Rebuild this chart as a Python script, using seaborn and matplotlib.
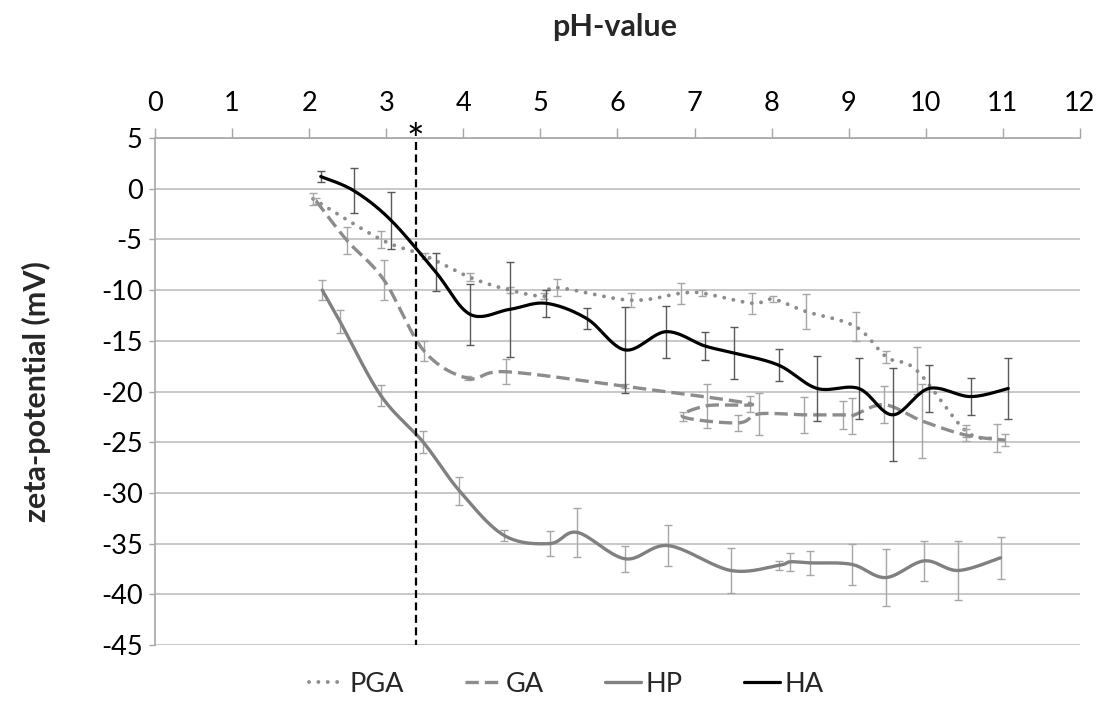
import numpy as np
import pandas as pd
import matplotlib
matplotlib.use("Agg")
import matplotlib.pyplot as plt
from matplotlib.lines import Line2D
import seaborn as sns

# ---- measured zeta potentials (mV) with standard deviations ----
pga_ph = [2.05, 2.93, 3.5, 4.09, 4.6, 5.05, 5.21, 6.17, 6.83, 7.1, 7.75, 8.02, 8.44, 9.09, 9.49, 9.88, 10.52, 10.92]
pga_zeta = [-1.0, -5.0, -6.6, -8.75, -10.0, -10.6, -9.75, -11.0, -10.3, -10.3, -11.3, -10.9, -12.1, -13.6, -16.6, -17.9, -23.9, -24.6]
pga_sd = [0.6, 0.85, 0.3, 0.4, 0.3, 0.3, 0.85, 0.7, 1.05, 0.3, 1.05, 0.3, 1.7, 1.45, 0.6, 2.3, 0.6, 1.4]

ga_ph = [2.09, 2.49, 2.97, 3.49, 4.06, 4.55, 6.1, 7.72, 7.16, 6.85, 7.56, 7.84, 8.42, 8.92, 9.04, 9.46, 9.95, 10.52, 11.03]
ga_zeta = [-1.2, -5.1, -9.0, -16.0, -18.7, -18.05, -19.5, -21.2, -21.4, -22.5, -23.1, -22.2, -22.3, -22.3, -22.4, -21.3, -22.9, -24.3, -24.8]
ga_sd = [0.3, 1.3, 1.95, 1.0, 0.2, 1.25, 0.2, 0.8, 2.15, 0.45, 0.8, 2.1, 1.75, 1.4, 1.8, 1.85, 3.65, 0.6, 0.6]

hp_ph = [2.17, 2.4, 2.93, 3.48, 3.95, 4.53, 5.12, 5.48, 6.1, 6.66, 7.47, 8.09, 8.24, 8.5, 9.04, 9.48, 9.98, 10.42, 10.97]
hp_zeta = [-10.0, -13.1, -20.4, -25.0, -29.8, -34.2, -35.0, -33.9, -36.5, -35.2, -37.65, -37.15, -36.8, -36.9, -37.05, -38.35, -36.7, -37.65, -36.4]
hp_sd = [1.0, 1.1, 1.0, 1.1, 1.35, 0.5, 1.2, 2.4, 1.3, 2.0, 2.25, 0.45, 0.9, 1.15, 2.05, 2.85, 2.0, 2.9, 2.1]

ha_ph = [2.15, 2.58, 3.06, 3.64, 4.09, 4.6, 5.07, 5.6, 6.1, 6.63, 7.13, 7.51, 8.09, 8.59, 9.13, 9.57, 10.04, 10.58, 11.07]
ha_zeta = [1.2, -0.2, -3.1, -8.2, -12.4, -11.9, -11.3, -12.8, -15.9, -14.1, -15.5, -16.2, -17.4, -19.7, -19.7, -22.3, -19.7, -20.5, -19.7]
ha_sd = [0.5, 2.2, 2.8, 1.9, 3.0, 4.7, 1.35, 1.05, 4.2, 2.55, 1.35, 2.6, 1.6, 3.2, 3.05, 4.6, 2.3, 1.85, 3.05]

series_names = ["PGA", "GA", "HP", "HA"]
marked_ph = 3.38
x_ticks = list(range(0, 13))
y_ticks = list(range(-45, 6, 5))


def smooth(xs, ys, n=24):
    """Catmull-Rom style Bezier smoothing through the points, in point order."""
    P = np.column_stack([xs, ys]).astype(float)
    out = []
    m = len(P)
    for i in range(m - 1):
        p0 = P[i - 1] if i > 0 else P[i]
        p1, p2 = P[i], P[i + 1]
        p3 = P[i + 2] if i + 2 < m else P[i + 1]
        c1 = p1 + (p2 - p0) / 6.0
        c2 = p2 - (p3 - p1) / 6.0
        t = np.linspace(0, 1, n, endpoint=(i == m - 2))[:, None]
        seg = ((1 - t) ** 3) * p1 + 3 * ((1 - t) ** 2) * t * c1 + 3 * (1 - t) * t ** 2 * c2 + t ** 3 * p2
        out.append(seg)
    return np.vstack(out)


sns.set_theme(style="white")
plt.rcParams["font.family"] = ["Lato", "DejaVu Sans"]
plt.rcParams["axes.unicode_minus"] = False

fig = plt.figure(figsize=(11.08, 7.02), dpi=100)
ax = fig.add_axes([0.1399, 0.0812, 0.8348, 0.7222])

light_err = "#a6a6a6"
styles = {
    "PGA": dict(color="#8c8c8c", lw=2.8, ls=(0, (0.01, 2.4)), cap="round", ecolor=light_err),
    "GA": dict(color="#8c8c8c", lw=2.4, ls=(0, (4.0, 1.8)), cap="butt", ecolor=light_err),
    "HP": dict(color="#808080", lw=2.4, ls="-", cap="round", ecolor=light_err),
    "HA": dict(color="#000000", lw=2.3, ls="-", cap="round", ecolor="#595959"),
}
data = {
    "PGA": (pga_ph, pga_zeta, pga_sd),
    "GA": (ga_ph, ga_zeta, ga_sd),
    "HP": (hp_ph, hp_zeta, hp_sd),
    "HA": (ha_ph, ha_zeta, ha_sd),
}

for z, name in enumerate(series_names):
    xs, ys, sd = data[name]
    st = styles[name]
    ax.errorbar(xs, ys, yerr=sd, fmt="none", ecolor=st["ecolor"], elinewidth=1.0,
                capsize=3.2, capthick=1.0, zorder=2 + z)
    curve = smooth(xs, ys)
    df = pd.DataFrame({"pH": curve[:, 0], "zeta": curve[:, 1]})
    sns.lineplot(data=df, x="pH", y="zeta", sort=False, estimator=None, ax=ax,
                 color=st["color"], linewidth=st["lw"], linestyle=st["ls"],
                 dash_capstyle=st["cap"], solid_capstyle="round", zorder=3 + z)

# marked pH with asterisk
ax.plot([marked_ph, marked_ph], [4.6, -45], color="black", lw=1.6, ls=(0, (3.6, 2.0)),
        zorder=10, clip_on=False)
ax.text(marked_ph, 4.6, "*", ha="center", va="center", fontsize=30, color="black",
        clip_on=False, zorder=10)

ax.set_xlim(0, 12)
ax.set_ylim(-45, 5)
ax.set_xticks(x_ticks)
ax.set_yticks(y_ticks)
ax.xaxis.tick_top()
ax.xaxis.set_label_position("top")
ax.tick_params(axis="x", which="major", direction="out", length=7, width=1.0,
               color="#a6a6a6", labelsize=19.5, pad=9, top=True, bottom=False)
ax.tick_params(axis="y", which="major", direction="out", length=4, width=1.0,
               color="#a6a6a6", labelsize=19.5, pad=5, left=True)
for lab in ax.get_xticklabels() + ax.get_yticklabels():
    lab.set_color("#000000")

ax.grid(axis="y", color="#bfbfbf", linewidth=1.2)
ax.grid(axis="x", visible=False)
ax.set_axisbelow(True)
for side in ["right", "bottom"]:
    ax.spines[side].set_visible(False)
for side in ["top", "left"]:
    ax.spines[side].set_color("#a6a6a6")
    ax.spines[side].set_linewidth(1.2)

ax.set_xlabel("")
ax.set_ylabel("zeta-potential (mV)", fontsize=22, fontweight="bold", labelpad=36)
fig.text(0.555, 1 - 27 / 702, "pH-value", ha="center", va="center", fontsize=22,
         fontweight="bold")

handles = [
    Line2D([], [], color=styles[n]["color"], lw=styles[n]["lw"], ls=styles[n]["ls"],
           dash_capstyle=styles[n]["cap"]) for n in series_names
]
fig.legend(handles, series_names, loc="center", bbox_to_anchor=(0.511, 1 - 684 / 702),
           ncol=4, frameon=False, fontsize=19.5, handlelength=1.35, handletextpad=0.15,
           columnspacing=2.25)

fig.savefig("out.png", dpi=100)
